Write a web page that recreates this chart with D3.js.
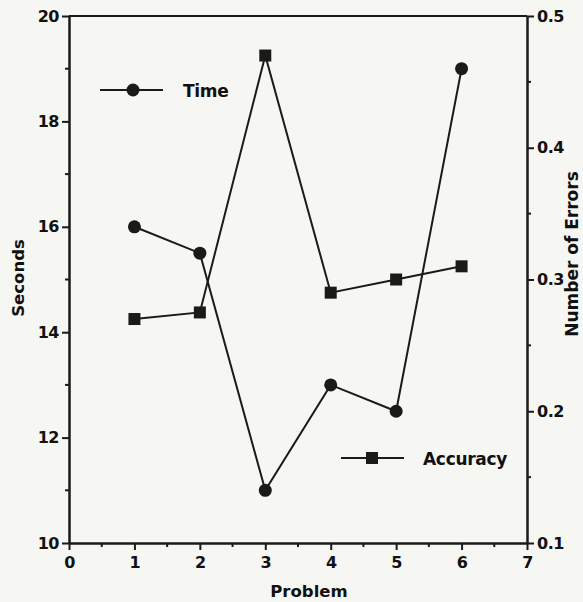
<!DOCTYPE html>
<html>
<head>
<meta charset="utf-8">
<script src="https://cdn.jsdelivr.net/npm/d3@7"></script>
<style>
  body { margin: 0; background: #f6f6f3; }
  text { font-family: "DejaVu Sans", Arial, sans-serif; font-weight: bold; fill: #111; }
</style>
</head>
<body>
<div id="wrapper"></div>
<script>
// data
const problems = [1, 2, 3, 4, 5, 6]
const timeSeconds = [16, 15.5, 11, 13, 12.5, 19]
const accuracyErrors = [0.27, 0.275, 0.47, 0.29, 0.30, 0.31]
const xTicks = [0, 1, 2, 3, 4, 5, 6, 7]
const leftTicks = [10, 12, 14, 16, 18, 20]
const rightTicks = [0.1, 0.2, 0.3, 0.4, 0.5]

function drawChart() {
  const dimensions = {
    width: 583,
    height: 602,
    margin: { top: 16, right: 56, bottom: 59, left: 69 },
  }
  dimensions.boundedWidth = dimensions.width - dimensions.margin.left - dimensions.margin.right
  dimensions.boundedHeight = dimensions.height - dimensions.margin.top - dimensions.margin.bottom

  const wrapper = d3.select("#wrapper")
    .append("svg")
      .attr("width", dimensions.width)
      .attr("height", dimensions.height)

  const bounds = wrapper.append("g")
      .attr("transform", `translate(${dimensions.margin.left},${dimensions.margin.top})`)

  // scales
  const xScale = d3.scaleLinear()
    .domain([0, 7])
    .range([0, dimensions.boundedWidth])

  const yScale = d3.scaleLinear()
    .domain([10, 20])
    .range([dimensions.boundedHeight, 0])

  const y2Scale = d3.scaleLinear()
    .domain([0.1, 0.5])
    .range([dimensions.boundedHeight, 0])

  const stroke = "#1a1a1a"
  const font = "'DejaVu Sans', Arial, sans-serif"

  // frame top line
  bounds.append("line")
    .attr("x1", 0).attr("x2", dimensions.boundedWidth)
    .attr("y1", 0).attr("y2", 0)
    .attr("stroke", stroke).attr("stroke-width", 2.2)

  // minor ticks
  bounds.append("g").selectAll("line")
    .data(d3.range(0.5, 7, 1)).join("line")
      .attr("x1", d => xScale(d)).attr("x2", d => xScale(d))
      .attr("y1", dimensions.boundedHeight).attr("y2", dimensions.boundedHeight + 4)
      .attr("stroke", stroke).attr("stroke-width", 2)
  bounds.append("g").selectAll("line")
    .data(d3.range(11, 20, 2)).join("line")
      .attr("x1", 0).attr("x2", -4)
      .attr("y1", d => yScale(d)).attr("y2", d => yScale(d))
      .attr("stroke", stroke).attr("stroke-width", 2)
  bounds.append("g").selectAll("line")
    .data([0.15, 0.25, 0.35, 0.45]).join("line")
      .attr("x1", dimensions.boundedWidth).attr("x2", dimensions.boundedWidth + 4)
      .attr("y1", d => y2Scale(d)).attr("y2", d => y2Scale(d))
      .attr("stroke", stroke).attr("stroke-width", 2)

  // axes
  const xAxis = bounds.append("g")
    .attr("transform", `translate(0,${dimensions.boundedHeight})`)
    .call(d3.axisBottom(xScale).tickValues(xTicks).tickFormat(d3.format("d"))
      .tickSize(7).tickPadding(7).tickSizeOuter(0))
  const yAxis = bounds.append("g")
    .call(d3.axisLeft(yScale).tickValues(leftTicks).tickFormat(d3.format("d"))
      .tickSize(7).tickPadding(3).tickSizeOuter(0))
  const y2Axis = bounds.append("g")
    .attr("transform", `translate(${dimensions.boundedWidth},0)`)
    .call(d3.axisRight(y2Scale).tickValues(rightTicks).tickFormat(d3.format(".1f"))
      .tickSize(7).tickPadding(3).tickSizeOuter(0))

  for (const ax of [xAxis, yAxis, y2Axis]) {
    ax.select(".domain").attr("stroke", stroke).attr("stroke-width", 2.5)
    ax.selectAll(".tick line").attr("stroke", stroke).attr("stroke-width", 2)
    ax.selectAll(".tick text")
      .style("font-size", "16px")
      .style("font-family", font)
      .style("font-weight", "bold")
      .style("letter-spacing", "-0.5px")
      .attr("fill", "#111")
  }

  // axis titles
  xAxis.append("text")
    .attr("x", dimensions.boundedWidth / 2 + 11)
    .attr("y", 54)
    .style("font-size", "16.5px")
    .style("text-anchor", "middle")
    .text("Problem")

  yAxis.append("text")
    .attr("transform", "rotate(-90)")
    .attr("x", -262)
    .attr("y", -45)
    .style("font-size", "16.5px")
    .style("text-anchor", "middle")
    .text("Seconds")

  y2Axis.append("text")
    .attr("transform", "rotate(-90)")
    .attr("x", -238)
    .attr("y", 51)
    .style("font-size", "17px")
    .style("text-anchor", "middle")
    .text("Number of Errors")

  // lines
  const timeData = problems.map((p, i) => ({ x: p, y: timeSeconds[i] }))
  const accData = problems.map((p, i) => ({ x: p, y: accuracyErrors[i] }))

  bounds.append("path")
    .datum(timeData)
    .attr("fill", "none").attr("stroke", stroke).attr("stroke-width", 2)
    .attr("d", d3.line().x(d => xScale(d.x)).y(d => yScale(d.y)))

  bounds.append("path")
    .datum(accData)
    .attr("fill", "none").attr("stroke", stroke).attr("stroke-width", 2)
    .attr("d", d3.line().x(d => xScale(d.x)).y(d => y2Scale(d.y)))

  bounds.append("g").selectAll("circle")
    .data(timeData).join("circle")
      .attr("cx", d => xScale(d.x))
      .attr("cy", d => yScale(d.y))
      .attr("r", 6.5)
      .attr("fill", stroke)

  const sq = 12
  bounds.append("g").selectAll("rect")
    .data(accData).join("rect")
      .attr("x", d => xScale(d.x) - sq / 2)
      .attr("y", d => y2Scale(d.y) - sq / 2)
      .attr("width", sq).attr("height", sq)
      .attr("fill", stroke)

  // legends
  const legTime = bounds.append("g").attr("transform", "translate(31,74)")
  legTime.append("line").attr("x1", 0).attr("x2", 63)
    .attr("stroke", stroke).attr("stroke-width", 2)
  legTime.append("circle").attr("cx", 33).attr("r", 6.5).attr("fill", stroke)
  legTime.append("text").attr("x", 83).attr("y", 7)
    .style("font-size", "17px").style("letter-spacing", "-0.3px").text("Time")

  const legAcc = bounds.append("g").attr("transform", "translate(272,442)")
  legAcc.append("line").attr("x1", 0).attr("x2", 63)
    .attr("stroke", stroke).attr("stroke-width", 2)
  legAcc.append("rect").attr("x", 31 - sq / 2).attr("y", -sq / 2)
    .attr("width", sq).attr("height", sq).attr("fill", stroke)
  legAcc.append("text").attr("x", 82).attr("y", 7)
    .style("font-size", "17px").style("letter-spacing", "-0.3px").text("Accuracy")
}

drawChart()
</script>
</body>
</html>
